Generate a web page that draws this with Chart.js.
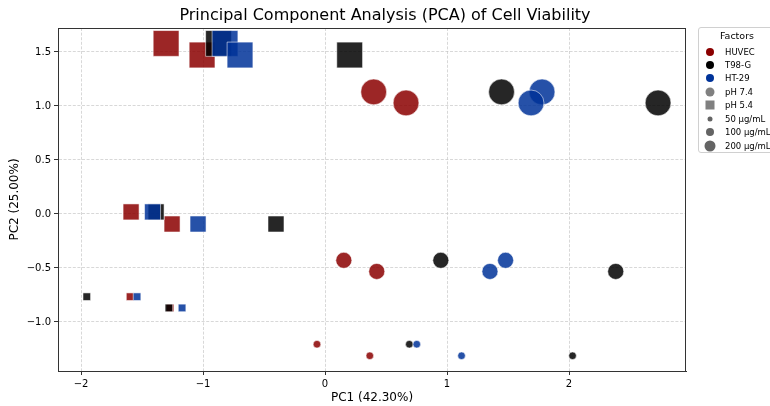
<!DOCTYPE html>
<html lang="en">
<head>
    <meta charset="UTF-8">
    <title>PCA of Cell Viability</title>
    <style>
        body {
            margin: 0;
            background: #fff;
            overflow: hidden;
            font-family: "DejaVu Sans", sans-serif;
        }
        .wrap {
            position: relative;
            width: 770px;
            height: 406px;
            overflow: hidden;
        }
        #pca-chart {
            position: absolute;
            left: 0;
            top: 0;
        }
        .legend {
            position: absolute;
            left: 698px;
            top: 27px;
            width: 84px;
            height: 124px;
            border: 1px solid #d0d0d0;
            border-radius: 3px;
            background: rgba(255, 255, 255, 0.8);
            font-size: 8.5px;
            color: #000;
        }
        .legend .title {
            text-align: center;
            font-size: 9.5px;
            margin-top: 2px;
            margin-left: -8px;
        }
        .legend .row {
            position: absolute;
            left: 0;
            height: 12px;
            line-height: 12px;
            white-space: nowrap;
        }
        .legend .mk {
            position: absolute;
            transform: translate(-50%, -50%);
            top: 6px;
        }
        .legend .lbl {
            position: absolute;
            left: 26px;
            top: 0;
        }
    </style>
</head>
<body>
<div class="wrap">
    <canvas id="pca-chart" width="770" height="406"></canvas>
    <div class="legend" id="legend">
        <div class="title">Factors</div>
    </div>
</div>

<script src="https://cdn.jsdelivr.net/npm/chart.js"></script>
<script>
    // point order in every series:
    // pH 7.4 -> 50, 50, 100, 100, 200, 200 ; pH 5.4 -> 50, 50, 100, 100, 200, 200
    const cellLines = ['HUVEC', 'T98-G', 'HT-29'];
    const phValues = ['7.4', '7.4', '7.4', '7.4', '7.4', '7.4', '5.4', '5.4', '5.4', '5.4', '5.4', '5.4'];
    const concentrations = [50, 50, 100, 100, 200, 200, 50, 50, 100, 100, 200, 200];

    const huvecPC1 = [-0.066, 0.367, 0.154, 0.424, 0.399, 0.664, -1.598, -1.27, -1.59, -1.254, -1.303, -1.008];
    const huvecPC2 = [-1.206, -1.313, -0.429, -0.532, 1.130, 1.028, -0.766, -0.870, 0.019, -0.093, 1.579, 1.472];
    const t98gPC1 = [0.691, 2.029, 0.949, 2.383, 1.447, 2.730, -1.953, -1.28, -1.385, -0.402, -0.873, 0.202];
    const t98gPC2 = [-1.206, -1.313, -0.429, -0.532, 1.130, 1.028, -0.766, -0.870, 0.019, -0.093, 1.579, 1.472];
    const ht29PC1 = [0.752, 1.119, 1.480, 1.352, 1.779, 1.689, -1.541, -1.172, -1.414, -1.041, -0.820, -0.697];
    const ht29PC2 = [-1.206, -1.313, -0.429, -0.532, 1.130, 1.028, -0.766, -0.870, 0.019, -0.093, 1.579, 1.472];

    const xTicks = [-2, -1, 0, 1, 2];
    const yTicks = [-1.0, -0.5, 0.0, 0.5, 1.0, 1.5];

    const lineColors = { 'HUVEC': '139,0,0', 'T98-G': '0,0,0', 'HT-29': '0,51,153' };
    const concRadius = { 50: 3.8, 100: 8, 200: 12.9 };

    function buildPoints(xs, ys) {
        return xs.map((x, i) => ({ x: x, y: ys[i] }));
    }

    const seriesData = {
        'HUVEC': buildPoints(huvecPC1, huvecPC2),
        'T98-G': buildPoints(t98gPC1, t98gPC2),
        'HT-29': buildPoints(ht29PC1, ht29PC2)
    };

    const styles = phValues.map(p => p === '7.4' ? 'circle' : 'rect');
    // rect marker in chart.js has side = radius * sqrt(2)
    const radii = concentrations.map((c, i) => phValues[i] === '7.4' ? concRadius[c] : concRadius[c] * Math.SQRT2);

    const datasets = cellLines.map((name, k) => ({
        label: name,
        data: seriesData[name],
        order: cellLines.length - k,
        pointStyle: styles,
        pointRadius: radii,
        pointHoverRadius: radii,
        backgroundColor: 'rgba(' + lineColors[name] + ',0.85)',
        borderColor: 'rgba(255,255,255,0.9)',
        borderWidth: 0.6
    }));

    const minus = s => String(s).replace('-', '\u2212');

    // top and right spines + title over the whole figure
    const framePlugin = {
        id: 'frame',
        afterDraw(chart) {
            const a = chart.chartArea;
            const ctx = chart.ctx;
            ctx.save();
            ctx.setLineDash([]);
            ctx.strokeStyle = '#333';
            ctx.lineWidth = 1;
            ctx.strokeRect(a.left + 0.5, a.top + 0.5, a.right - a.left - 1, a.bottom - a.top);
            ctx.fillStyle = '#000';
            ctx.font = '16px "DejaVu Sans"';
            ctx.textAlign = 'center';
            ctx.textBaseline = 'middle';
            ctx.fillText('Principal Component Analysis (PCA) of Cell Viability', 385, 16);
            ctx.restore();
        }
    };

    Chart.defaults.font.family = '"DejaVu Sans", sans-serif';
    Chart.defaults.color = '#000';

    const gridOpts = {
        color: 'rgba(195,195,195,0.65)',
        lineWidth: 1,
        tickColor: '#333',
        tickLength: 4,
        tickBorderDash: []
    };
    // in chart.js v4 the grid line dash lives under "border"
    const borderOpts = { display: true, color: '#333', width: 1, dash: [3, 1.6] };

    new Chart(document.getElementById('pca-chart'), {
        type: 'scatter',
        data: { datasets: datasets },
        options: {
            responsive: false,
            animation: false,
            events: [],
            layout: { padding: { top: 28, right: 84, left: 0, bottom: 0 } },
            plugins: {
                legend: { display: false },
                tooltip: { enabled: false },
                title: { display: false }
            },
            scales: {
                x: {
                    type: 'linear',
                    min: -2.189,
                    max: 2.959,
                    afterFit: s => { s.height = 35; },
                    afterBuildTicks: s => { s.ticks = xTicks.map(v => ({ value: v })); },
                    ticks: {
                        font: { size: 10 },
                        padding: 3,
                        callback: v => minus(v)
                    },
                    grid: gridOpts,
                    border: borderOpts,
                    title: {
                        display: true,
                        text: 'PC1 (42.30%)',
                        font: { size: 12 },
                        padding: { top: 0, bottom: 1 }
                    }
                },
                y: {
                    type: 'linear',
                    min: -1.454,
                    max: 1.722,
                    afterFit: s => { s.width = 58; },
                    afterBuildTicks: s => { s.ticks = yTicks.map(v => ({ value: v })); },
                    ticks: {
                        font: { size: 10 },
                        padding: 3,
                        callback: v => minus(Number(v).toFixed(1))
                    },
                    grid: gridOpts,
                    border: borderOpts,
                    title: {
                        display: true,
                        text: 'PC2 (25.00%)',
                        font: { size: 12 },
                        padding: { top: 8, bottom: 0 }
                    }
                }
            }
        },
        plugins: [framePlugin]
    });

    // legend box (outside the axes, like the original)
    const legendRows = [
        { label: 'HUVEC', color: 'rgb(139,0,0)', shape: 'circle', size: 8 },
        { label: 'T98-G', color: 'rgb(0,0,0)', shape: 'circle', size: 8 },
        { label: 'HT-29', color: 'rgb(0,51,153)', shape: 'circle', size: 8 },
        { label: 'pH 7.4', color: 'rgb(128,128,128)', shape: 'circle', size: 9 },
        { label: 'pH 5.4', color: 'rgb(128,128,128)', shape: 'square', size: 9 },
        { label: '50 \u03bcg/mL', color: 'rgb(100,100,100)', shape: 'circle', size: 5 },
        { label: '100 \u03bcg/mL', color: 'rgb(100,100,100)', shape: 'circle', size: 8 },
        { label: '200 \u03bcg/mL', color: 'rgb(100,100,100)', shape: 'circle', size: 11 }
    ];
    const rowTops = [18, 31, 44, 58, 71, 85, 98, 112];
    const legendEl = document.getElementById('legend');
    legendRows.forEach((r, i) => {
        const row = document.createElement('div');
        row.className = 'row';
        row.style.top = rowTops[i] + 'px';
        const mk = document.createElement('span');
        mk.className = 'mk';
        mk.style.left = '11px';
        mk.style.width = r.size + 'px';
        mk.style.height = r.size + 'px';
        mk.style.background = r.color;
        mk.style.borderRadius = r.shape === 'circle' ? '50%' : '0';
        const lbl = document.createElement('span');
        lbl.className = 'lbl';
        lbl.textContent = r.label;
        row.appendChild(mk);
        row.appendChild(lbl);
        legendEl.appendChild(row);
    });
</script>
</body>
</html>
